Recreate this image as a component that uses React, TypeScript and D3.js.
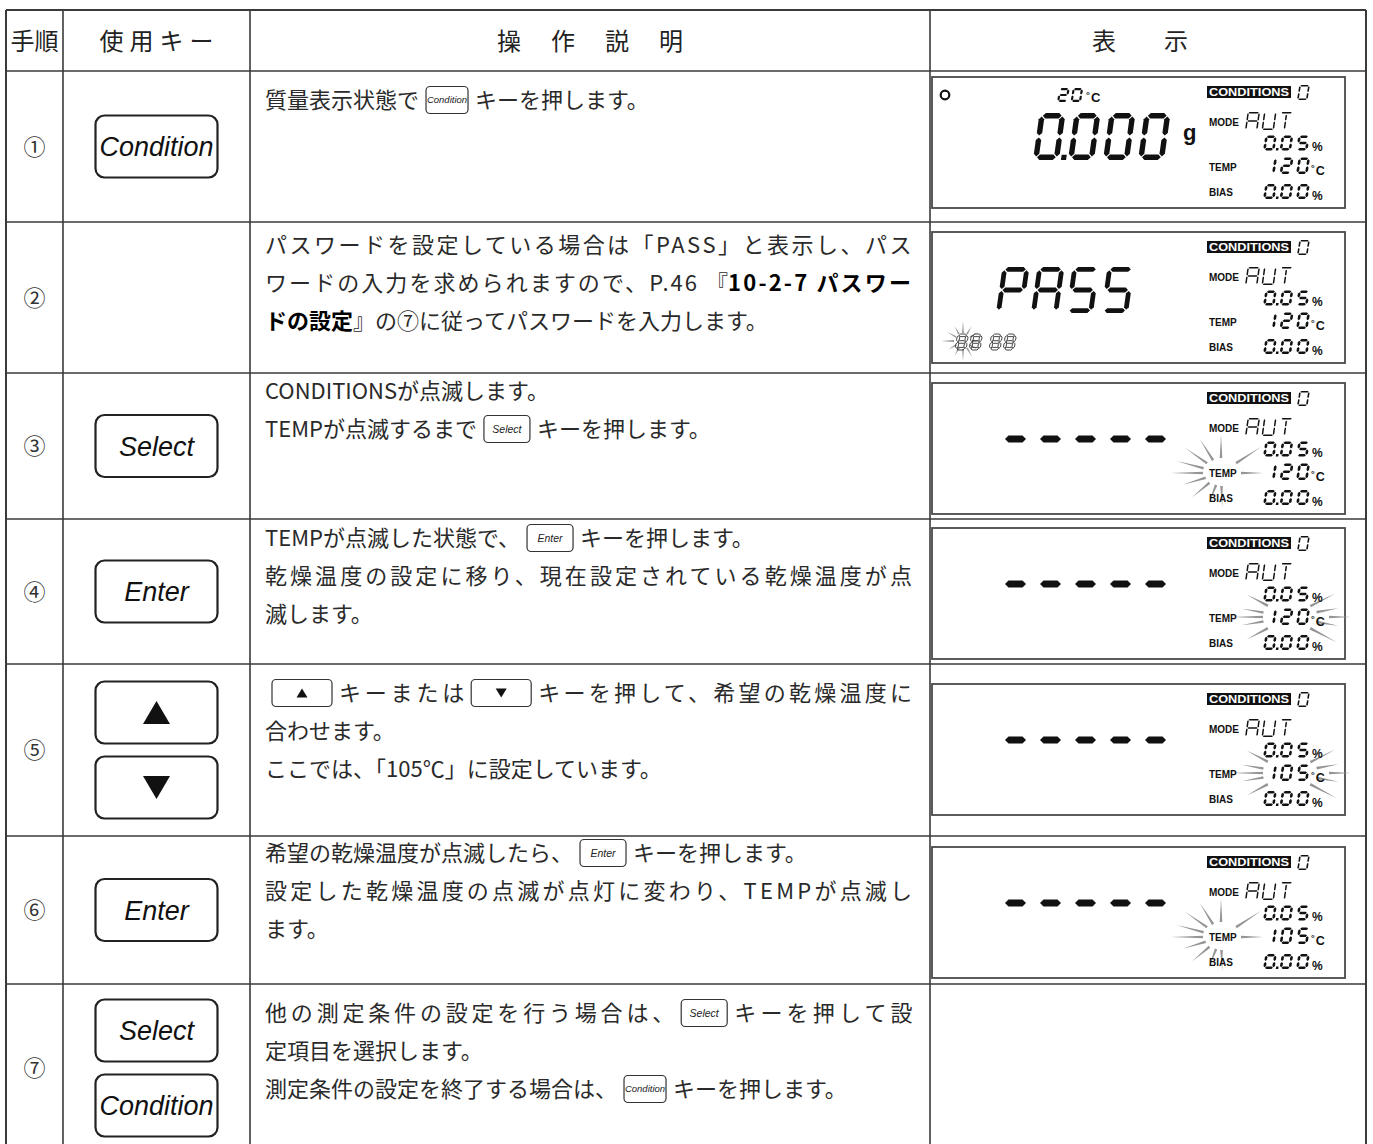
import React, { useEffect, useRef } from "react";
import * as d3 from "d3";

const W = 1373;
const H = 1144;

// ---------------- data ----------------
const HEADERS = ["手順", "使用キー", "操作説明", "表示"];
const STEP_LABELS = ["①", "②", "③", "④", "⑤", "⑥", "⑦"];
const STEP_KEYS: string[][] = [
  ["Condition"],
  [],
  ["Select"],
  ["Enter"],
  ["▲", "▼"],
  ["Enter"],
  ["Select", "Condition"],
];

type Seg = string | { b: string } | { k: string };
const DESC_1: Seg[][] = [["質量表示状態で", { k: "Condition" }, "キーを押します。"]];
const DESC_2: Seg[][] = [
  ["パスワードを設定している場合は「PASS」と表示し、パス"],
  ["ワードの入力を求められますので、P.46 『", { b: "10-2-7 パスワー" }],
  [{ b: "ドの設定" }, "』の⑦に従ってパスワードを入力します。"],
];
const DESC_3: Seg[][] = [
  ["CONDITIONSが点滅します。"],
  ["TEMPが点滅するまで", { k: "Select" }, "キーを押します。"],
];
const DESC_4: Seg[][] = [
  ["TEMPが点滅した状態で、", { k: "Enter" }, "キーを押します。"],
  ["乾燥温度の設定に移り、現在設定されている乾燥温度が点"],
  ["滅します。"],
];
const DESC_5: Seg[][] = [
  [{ k: "▲" }, "キーまたは", { k: "▼" }, "キーを押して、希望の乾燥温度に"],
  ["合わせます。"],
  ["ここでは、「105℃」に設定しています。"],
];
const DESC_6: Seg[][] = [
  ["希望の乾燥温度が点滅したら、", { k: "Enter" }, "キーを押します。"],
  ["設定した乾燥温度の点滅が点灯に変わり、TEMPが点滅し"],
  ["ます。"],
];
const DESC_7: Seg[][] = [
  ["他の測定条件の設定を行う場合は、", { k: "Select" }, "キーを押して設"],
  ["定項目を選択します。"],
  ["測定条件の設定を終了する場合は、", { k: "Condition" }, "キーを押します。"],
];
const DESCRIPTIONS = [DESC_1, DESC_2, DESC_3, DESC_4, DESC_5, DESC_6, DESC_7];

// display panel contents (rows 1-6)
const STABLE_MARK = [true, false, false, false, false, false];
const AMBIENT_TEMP = ["20", "", "", "", "", ""];
const MAIN_READING = ["0.000", "PASS", "-----", "-----", "-----", "-----"];
const MAIN_UNIT = ["g", "", "", "", "", ""];
const PASSWORD_ENTRY = ["", "88 88", "", "", "", ""];
const CONDITION_NO = ["0", "0", "0", "0", "0", "0"];
const MODE_VALUES = ["AUT", "AUT", "AUT", "AUT", "AUT", "AUT"];
const RATE_VALUES = ["0.05", "0.05", "0.05", "0.05", "0.05", "0.05"];
const TEMP_VALUES = ["120", "120", "120", "120", "105", "105"];
const BIAS_VALUES = ["0.00", "0.00", "0.00", "0.00", "0.00", "0.00"];
const FLASH_TARGET = ["", "password", "TEMP", "value", "value", "TEMP"];

// ---------------- layout ----------------
const COL_X = [6, 63, 250, 930, 1366];
const ROW_Y = [10, 71, 222, 373, 519, 664, 836, 984, 1152];
const FIRST_LINE_CENTER = [100, 245, 391, 538, 693, 853, 1013];
const LINE_GAP = 38;
const JUSTIFY = [[0], [1, 1, 0], [0, 0], [0, 1, 0], [1, 0, 0], [0, 1, 0], [1, 0, 0]];
const HEADER_SPACING = [0, 6, 30, 48];
const HEADER_CX = [34.5, 156.5, 590, 1140];
const PANEL_TOP = [77, 232, 383, 528, 684, 847];
const PANEL_X = 932;
const PANEL_W = 413;
const PANEL_H = 131;
const TEXT_X = 265;
const TEXT_RIGHT = 909;

const JP = "'Noto Sans CJK JP', 'Noto Sans CJK SC', sans-serif";
const LAT = "'Liberation Sans', Arial, sans-serif";

// flash rays: [angleDeg, rInner, rOuter]
const TEMP_RAYS: number[][] = [
  [-90, 15, 38], [-122, 15, 40], [-145, 17, 44], [-165, 18, 46], [180, 18, 50],
  [163, 16, 40], [140, 15, 38], [112, 13, 33], [88, 13, 34], [-33, 18, 48], [0, 20, 42],
];
const VALUE_RAYS: number[][] = [
  [0, 40, 62], [-10, 28, 50], [10, 28, 50], [-27, 24, 52], [28, 24, 54],
  [180, 26, 57], [-170, 26, 48], [170, 26, 48], [-152, 24, 48], [152, 24, 48],
];
const PASS_RAYS: number[][] = [
  [0, 9, 18], [30, 8, 17], [60, 8, 18], [90, 8, 20], [120, 8, 17], [150, 8, 17],
  [180, 9, 22], [-150, 8, 18], [-120, 8, 17], [-90, 8, 20], [-60, 8, 17], [-30, 8, 18],
];

// ---------------- seven segment ----------------
const SEGS: Record<string, string> = {
  "0": "abcdef", "1": "bc", "2": "abdeg", "5": "acdfg", "8": "abcdefg",
  P: "abefg", A: "abcefg", S: "acdfg", U: "bcdef", T: "ahi",
};

function segLine(k: string, w: number, h: number, t: number): number[] {
  const l = t / 2, r = w - t / 2, top = -h + t / 2, mid = -h / 2, bot = -t / 2, cx = w / 2;
  switch (k) {
    case "a": return [l, top, r, top];
    case "g": return [l, mid, r, mid];
    case "d": return [l, bot, r, bot];
    case "f": return [l, top, l, mid];
    case "e": return [l, mid, l, bot];
    case "b": return [r, top, r, mid];
    case "c": return [r, mid, r, bot];
    case "h": return [cx, top + t, cx, mid];
    default: return [cx, mid, cx, bot];
  }
}

function hexPts(x1: number, y1: number, x2: number, y2: number, t: number, gap: number): string {
  const len = Math.hypot(x2 - x1, y2 - y1);
  const ux = (x2 - x1) / len, uy = (y2 - y1) / len;
  const nx = -uy, ny = ux, ht = t / 2;
  const p = [
    [x1 + ux * gap, y1 + uy * gap],
    [x1 + ux * (gap + ht) + nx * ht, y1 + uy * (gap + ht) + ny * ht],
    [x2 - ux * (gap + ht) + nx * ht, y2 - uy * (gap + ht) + ny * ht],
    [x2 - ux * gap, y2 - uy * gap],
    [x2 - ux * (gap + ht) - nx * ht, y2 - uy * (gap + ht) - ny * ht],
    [x1 + ux * (gap + ht) - nx * ht, y1 + uy * (gap + ht) - ny * ht],
  ];
  return p.map((q) => q[0].toFixed(2) + "," + q[1].toFixed(2)).join(" ");
}

type SevenOpts = { h: number; w: number; pitch: number; t: number; gap: number; skew: number; mode?: string; color?: string; space?: number };

function drawSeven(parent: any, text: string, x: number, baseline: number, o: SevenOpts) {
  const g = parent.append("g").attr("transform", `translate(${x},${baseline}) skewX(${-o.skew})`);
  const color = o.color || "#111";
  let cx = 0;
  for (const ch of text) {
    if (ch === ".") {
      const s = o.t * 0.95;
      g.append("rect").attr("x", cx - (o.pitch - o.w) / 2 - s / 2).attr("y", -s).attr("width", s).attr("height", s).attr("fill", color);
      continue;
    }
    if (ch === " ") { cx += o.space ?? o.pitch * 0.4; continue; }
    const segs = SEGS[ch] || "";
    for (const k of segs) {
      const [x1, y1, x2, y2] = segLine(k, o.w, o.h, o.t);
      const pg = g.append("polygon").attr("points", hexPts(x1 + cx, y1, x2 + cx, y2, o.t, o.gap));
      if (o.mode === "outline") pg.attr("fill", "none").attr("stroke", color).attr("stroke-width", 0.8);
      else pg.attr("fill", color);
    }
    cx += o.pitch;
  }
}

function drawFlash(parent: any, cx: number, cy: number, rays: number[][], width: number) {
  const g = parent.append("g");
  rays.forEach(([a, rIn, rOut]) => {
    const th = (a * Math.PI) / 180;
    const c = Math.cos(th), s = Math.sin(th);
    const x1 = cx + rIn * c, y1 = cy + rIn * s, x2 = cx + rOut * c, y2 = cy + rOut * s;
    const nx = -s, ny = c;
    const p = d3.path();
    p.moveTo(x1 + (nx * width) / 2, y1 + (ny * width) / 2);
    p.lineTo(x2, y2);
    p.lineTo(x1 - (nx * width) / 2, y1 - (ny * width) / 2);
    p.closePath();
    g.append("path").attr("d", p.toString()).attr("fill", "#959595");
  });
}

function degC(parent: any, x: number, baseline: number, size: number) {
  parent.append("text").attr("x", x).attr("y", baseline - size * 0.28).attr("font-family", LAT).attr("font-weight", 700)
    .attr("font-size", size * 0.75).attr("fill", "#111").text("°");
  parent.append("text").attr("x", x + size * 0.38).attr("y", baseline).attr("font-family", LAT).attr("font-weight", 700)
    .attr("font-size", size).attr("fill", "#111").text("C");
}

function drawPanel(root: any, i: number) {
  const bx = PANEL_X, by = PANEL_TOP[i];
  const g = root.append("g");
  g.append("rect").attr("x", bx).attr("y", by).attr("width", PANEL_W).attr("height", PANEL_H)
    .attr("fill", "#fff").attr("stroke", "#4a4a4a").attr("stroke-width", 1.8);

  // flash rays beneath
  const flash = FLASH_TARGET[i];
  if (flash === "TEMP") drawFlash(g, bx + 289, by + 90, TEMP_RAYS, 2.6);
  if (flash === "value") drawFlash(g, bx + 357, by + 89, VALUE_RAYS, 2.6);
  if (flash === "password") drawFlash(g, bx + 31, by + 109, PASS_RAYS, 1.8);

  if (STABLE_MARK[i]) {
    g.append("circle").attr("cx", bx + 13).attr("cy", by + 18).attr("r", 4.3).attr("fill", "none").attr("stroke", "#111").attr("stroke-width", 2.2);
  }
  if (AMBIENT_TEMP[i]) {
    drawSeven(g, AMBIENT_TEMP[i], bx + 125, by + 25, { h: 14, w: 10.5, pitch: 13.5, t: 2.2, gap: 0.4, skew: 9 });
    degC(g, bx + 154, by + 25, 13);
  }
  const main = MAIN_READING[i];
  if (main === "-----") {
    for (let k = 0; k < 5; k++) {
      const x0 = bx + 73 + k * 35;
      g.append("polygon").attr("points", hexPts(x0, by + 56, x0 + 21, by + 56, 7, 0)).attr("fill", "#111");
    }
  } else if (main === "PASS") {
    drawSeven(g, main, bx + 64, by + 81, { h: 46, w: 27, pitch: 35, t: 4.8, gap: 0.9, skew: 8 });
  } else if (main) {
    drawSeven(g, main, bx + 101, by + 83, { h: 47, w: 26, pitch: 35, t: 5.4, gap: 0.9, skew: 8 });
  }
  if (MAIN_UNIT[i]) {
    g.append("text").attr("x", bx + 251).attr("y", by + 63).attr("font-family", LAT).attr("font-weight", 700)
      .attr("font-size", 22).attr("fill", "#111").text(MAIN_UNIT[i]);
  }
  if (PASSWORD_ENTRY[i]) {
    drawSeven(g, PASSWORD_ENTRY[i], bx + 23, by + 118, { h: 16, w: 11, pitch: 14, t: 2.6, gap: 0.5, skew: 9, mode: "outline", color: "#222", space: 6 });
  }

  // right-hand indicator block
  g.append("rect").attr("x", bx + 275).attr("y", by + 9).attr("width", 84).attr("height", 12).attr("fill", "#111");
  g.append("text").attr("x", bx + 317).attr("y", by + 19).attr("text-anchor", "middle").attr("font-family", LAT)
    .attr("font-weight", 700).attr("font-size", 10.5).attr("textLength", 80).attr("lengthAdjust", "spacingAndGlyphs")
    .attr("fill", "#fff").text("CONDITIONS");
  drawSeven(g, CONDITION_NO[i], bx + 365, by + 23, { h: 15, w: 10.5, pitch: 12, t: 1.6, gap: 0.4, skew: 9 });

  const label = (txt: string, y: number) =>
    g.append("text").attr("x", bx + 277).attr("y", y).attr("font-family", LAT).attr("font-weight", 700)
      .attr("font-size", 10).attr("fill", "#111").text(txt);
  label("MODE", by + 49);
  drawSeven(g, MODE_VALUES[i], bx + 313, by + 53, { h: 18, w: 12.5, pitch: 16.5, t: 1.5, gap: 0.5, skew: 8 });

  const small = { h: 15, w: 11.5, pitch: 16.5, t: 2.6, gap: 0.5, skew: 9 };
  drawSeven(g, RATE_VALUES[i], bx + 331, by + 73.5, small);
  g.append("text").attr("x", bx + 380).attr("y", by + 74).attr("font-family", LAT).attr("font-weight", 700)
    .attr("font-size", 12).attr("fill", "#111").text("%");

  label("TEMP", by + 94);
  drawSeven(g, TEMP_VALUES[i], bx + 331, by + 97, { ...small, h: 16.5 });
  degC(g, bx + 379, by + 97.5, 12.5);

  label("BIAS", by + 119);
  drawSeven(g, BIAS_VALUES[i], bx + 331, by + 122, small);
  g.append("text").attr("x", bx + 380).attr("y", by + 122.5).attr("font-family", LAT).attr("font-weight", 700)
    .attr("font-size", 12).attr("fill", "#111").text("%");
}

// ---------------- keys ----------------
const INLINE_W: Record<string, number> = { Condition: 42, Select: 46, Enter: 46, "▲": 60, "▼": 60 };

function triangle(parent: any, cx: number, cy: number, w: number, h: number, up: boolean) {
  const p = d3.path();
  if (up) { p.moveTo(cx, cy - h / 2); p.lineTo(cx + w / 2, cy + h / 2); p.lineTo(cx - w / 2, cy + h / 2); }
  else { p.moveTo(cx - w / 2, cy - h / 2); p.lineTo(cx + w / 2, cy - h / 2); p.lineTo(cx, cy + h / 2); }
  p.closePath();
  parent.append("path").attr("d", p.toString()).attr("fill", "#111");
}

function inlineKey(parent: any, k: string, x: number, cy: number) {
  const w = INLINE_W[k], h = 27;
  parent.append("rect").attr("x", x).attr("y", cy - h / 2).attr("width", w).attr("height", h).attr("rx", 4)
    .attr("fill", "#fff").attr("stroke", "#333").attr("stroke-width", 1.2);
  if (k === "▲" || k === "▼") {
    triangle(parent, x + w / 2, cy, 11, 9, k === "▲");
  } else {
    const fs = k === "Condition" ? 9.5 : 10.5;
    parent.append("text").attr("x", x + w / 2).attr("y", cy + fs * 0.36).attr("text-anchor", "middle")
      .attr("font-family", LAT).attr("font-style", "italic").attr("font-size", fs).attr("fill", "#222").text(k);
  }
}

function bigKey(parent: any, k: string, cx: number, cy: number) {
  const w = 122, h = 62;
  parent.append("rect").attr("x", cx - w / 2).attr("y", cy - h / 2).attr("width", w).attr("height", h).attr("rx", 9)
    .attr("fill", "#fff").attr("stroke", "#222").attr("stroke-width", 2.2);
  if (k === "▲" || k === "▼") {
    triangle(parent, cx, cy, 27, 23, k === "▲");
  } else {
    parent.append("text").attr("x", cx).attr("y", cy + 9.5).attr("text-anchor", "middle").attr("font-family", LAT)
      .attr("font-style", "italic").attr("font-size", 27).attr("fill", "#111").text(k);
  }
}

// ---------------- rich text ----------------
function richLine(parent: any, segs: Seg[], x0: number, baseline: number, justify: boolean) {
  const fs = 22;
  const KEY_GAP = 7;
  const items = segs.map((s) => {
    if (typeof s === "string") return { kind: "t", text: s, bold: false, w: 0, n: 0 };
    if ("b" in s) return { kind: "t", text: s.b, bold: true, w: 0, n: 0 };
    return { kind: "k", text: s.k, bold: false, w: 0, n: 0 };
  });
  let natural = 0, nchars = 0;
  items.forEach((it) => {
    if (it.kind === "t") {
      const t = parent.append("text").attr("font-size", fs).attr("font-family", JP).attr("font-weight", it.bold ? 700 : 400).text(it.text);
      it.w = (t.node() as SVGTextElement).getComputedTextLength();
      t.remove();
      it.n = [...it.text].length;
      nchars += it.n;
    } else {
      it.w = INLINE_W[it.text] + KEY_GAP * 2;
    }
    natural += it.w;
  });
  const ls = justify ? (TEXT_RIGHT - x0 - natural) / Math.max(1, nchars - 1) : 0;
  let x = x0;
  items.forEach((it) => {
    if (it.kind === "t") {
      const t = parent.append("text").attr("x", x).attr("y", baseline).attr("font-size", fs).attr("font-family", JP)
        .attr("font-weight", it.bold ? 700 : 400).attr("fill", it.bold ? "#000" : "#2a2a2a").text(it.text);
      const width = it.w + ls * it.n;
      if (justify) t.attr("textLength", width).attr("lengthAdjust", "spacing");
      x += width;
    } else {
      inlineKey(parent, it.text, x + KEY_GAP, baseline - 8);
      x += it.w;
    }
  });
}

// ---------------- render ----------------
function render(svg: any) {
  svg.append("rect").attr("width", W).attr("height", H).attr("fill", "#fff");
  const grid = svg.append("g").attr("stroke", "#3a3a3a").attr("fill", "none");

  ROW_Y.slice(0, 8).forEach((y, k) => {
    grid.append("line").attr("x1", COL_X[0]).attr("x2", COL_X[4]).attr("y1", y).attr("y2", y).attr("stroke-width", k === 0 ? 2 : 1.6);
  });
  COL_X.forEach((x, k) => {
    grid.append("line").attr("x1", x).attr("x2", x).attr("y1", ROW_Y[0]).attr("y2", H + 5).attr("stroke-width", k === 0 || k === 4 ? 2 : 1.6);
  });

  HEADERS.forEach((h, k) => {
    svg.append("text").attr("x", HEADER_CX[k] + HEADER_SPACING[k] / 2).attr("y", 49.5).attr("text-anchor", "middle")
      .attr("font-family", JP).attr("font-size", 24).attr("letter-spacing", HEADER_SPACING[k]).attr("fill", "#222").text(h);
  });

  for (let i = 0; i < 7; i++) {
    const top = ROW_Y[i + 1], bot = ROW_Y[i + 2];
    const cy = (top + bot) / 2;
    svg.append("text").attr("x", (COL_X[0] + COL_X[1]) / 2).attr("y", cy + 8).attr("text-anchor", "middle")
      .attr("font-family", JP).attr("font-size", 22).attr("fill", "#333").text(STEP_LABELS[i]);
    const keys = STEP_KEYS[i];
    const kh = 62, kgap = 13;
    const total = keys.length * kh + (keys.length - 1) * kgap;
    keys.forEach((k, j) => {
      bigKey(svg, k, (COL_X[1] + COL_X[2]) / 2, cy - total / 2 + kh / 2 + j * (kh + kgap));
    });
    DESCRIPTIONS[i].forEach((line, j) => {
      richLine(svg, line, TEXT_X, FIRST_LINE_CENTER[i] + j * LINE_GAP + 8, !!JUSTIFY[i][j]);
    });
    if (i < 6) drawPanel(svg, i);
  }
}

export default function App() {
  const ref = useRef<SVGSVGElement>(null);
  useEffect(() => {
    document.body.style.margin = "0";
    document.body.style.overflow = "hidden";
    const draw = () => {
      if (!ref.current) return;
      const svg = d3.select(ref.current);
      svg.selectAll("*").remove();
      render(svg);
    };
    draw();
    const fonts = (document as any).fonts;
    if (fonts && fonts.ready) fonts.ready.then(draw);
  }, []);
  return <svg ref={ref} width={W} height={H} style={{ display: "block", background: "#fff" }} />;
}
